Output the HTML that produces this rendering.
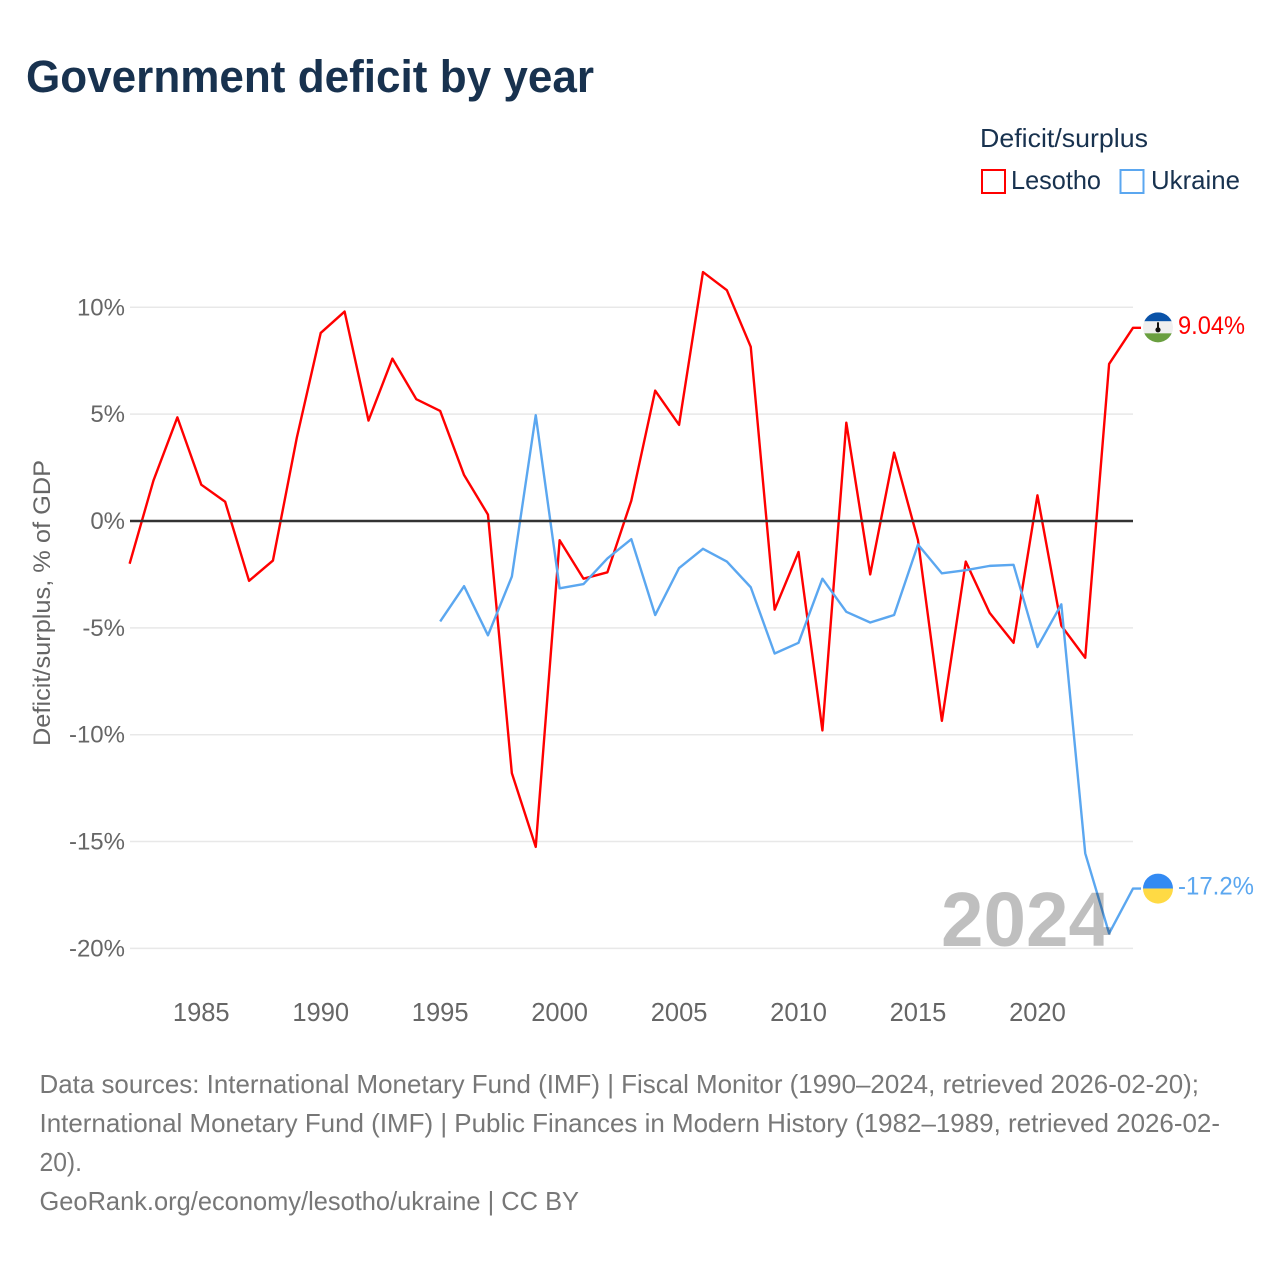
<!DOCTYPE html>
<html lang="en">
<head>
<meta charset="utf-8">
<title>Government deficit by year</title>
<style>
html,body{margin:0;padding:0;background:#fff;}
svg{display:block;}
text{font-family:"Liberation Sans",sans-serif;}
</style>
</head>
<body>
<svg id="chart" xmlns="http://www.w3.org/2000/svg" width="1280" height="1280" viewBox="0 0 1280 1280">
  <rect width="1280" height="1280" fill="#fff"/>
  <text x="26" y="92" font-size="45" font-weight="700" fill="#18324f" textLength="568" lengthAdjust="spacingAndGlyphs">Government deficit by year</text>
  <g>
    <text x="980" y="147" font-size="26" fill="#18324f" textLength="168" lengthAdjust="spacingAndGlyphs">Deficit/surplus</text>
    <rect x="982" y="170" width="23" height="23" fill="none" stroke="#ff0000" stroke-width="2"/>
    <text x="1011" y="189" font-size="26" fill="#18324f" textLength="90" lengthAdjust="spacingAndGlyphs">Lesotho</text>
    <rect x="1120.5" y="170" width="23" height="23" fill="none" stroke="#5ba7f0" stroke-width="2"/>
    <text x="1151" y="189" font-size="26" fill="#18324f" textLength="89" lengthAdjust="spacingAndGlyphs">Ukraine</text>
  </g>
  <text transform="translate(50,603) rotate(-90)" text-anchor="middle" font-size="24.5" fill="#666" textLength="286" lengthAdjust="spacingAndGlyphs">Deficit/surplus, % of GDP</text>
  <g id="grid"></g>
  <g id="yticks"></g>
  <g id="xticks"></g>
  <g id="series"></g>
  <text x="941" y="946" font-size="77" font-weight="700" fill="#000" fill-opacity="0.25" textLength="170" lengthAdjust="spacingAndGlyphs">2024</text>
  <defs>
    <clipPath id="flag-clip-ls"><circle id="clip-ls" cx="1158" cy="327" r="15"/></clipPath>
    <clipPath id="flag-clip-ua"><circle id="clip-ua" cx="1158" cy="888" r="15"/></clipPath>
  </defs>
  <g id="flag-ls" clip-path="url(#flag-clip-ls)">
    <rect id="ls-blue" x="1143" width="30" height="9" fill="#0a53a8"/>
    <rect id="ls-white" x="1143" width="30" height="12" fill="#efefef"/>
    <rect id="ls-green" x="1143" width="30" height="10" fill="#6a9f40"/>
    <rect id="ls-hat" x="1157" width="2" height="7" fill="#111"/>
    <circle id="ls-hat-base" cx="1158" r="2.6" fill="#111"/>
  </g>
  <g id="flag-ua" clip-path="url(#flag-clip-ua)">
    <rect id="ua-blue" x="1143" width="30" height="15" fill="#338af3"/>
    <rect id="ua-yellow" x="1143" width="30" height="16" fill="#ffda44"/>
  </g>
  <g id="endlabels"></g>
  <g font-size="26" fill="#777">
    <text x="39.5" y="1093" textLength="1159.5" lengthAdjust="spacingAndGlyphs">Data sources: International Monetary Fund (IMF) | Fiscal Monitor (1990–2024, retrieved 2026-02-20);</text>
    <text x="39.5" y="1132" textLength="1180.5" lengthAdjust="spacingAndGlyphs">International Monetary Fund (IMF) | Public Finances in Modern History (1982–1989, retrieved 2026-02-</text>
    <text x="39.5" y="1171" textLength="42.5" lengthAdjust="spacingAndGlyphs">20).</text>
    <text x="39.5" y="1210" textLength="539.5" lengthAdjust="spacingAndGlyphs">GeoRank.org/economy/lesotho/ukraine | CC BY</text>
  </g>
</svg>
<script>
var lesothoYears = [1982,1983,1984,1985,1986,1987,1988,1989,1990,1991,1992,1993,1994,1995,1996,1997,1998,1999,2000,2001,2002,2003,2004,2005,2006,2007,2008,2009,2010,2011,2012,2013,2014,2015,2016,2017,2018,2019,2020,2021,2022,2023,2024];
var lesothoValues = [-2.0,1.9,4.85,1.7,0.9,-2.8,-1.85,3.9,8.8,9.8,4.7,7.6,5.7,5.15,2.15,0.3,-11.8,-15.25,-0.9,-2.7,-2.4,0.95,6.1,4.5,11.65,10.8,8.15,-4.15,-1.45,-9.8,4.6,-2.5,3.2,-0.9,-9.35,-1.9,-4.3,-5.7,1.2,-4.9,-6.4,7.35,9.04];
var ukraineYears = [1995,1996,1997,1998,1999,2000,2001,2002,2003,2004,2005,2006,2007,2008,2009,2010,2011,2012,2013,2014,2015,2016,2017,2018,2019,2020,2021,2022,2023,2024];
var ukraineValues = [-4.7,-3.05,-5.35,-2.6,4.95,-3.15,-2.95,-1.75,-0.85,-4.4,-2.2,-1.3,-1.9,-3.1,-6.2,-5.7,-2.7,-4.25,-4.75,-4.4,-1.1,-2.45,-2.3,-2.1,-2.05,-5.9,-3.9,-15.55,-19.3,-17.2];
var yTicks = [10,5,0,-5,-10,-15,-20];
var xTicks = [1985,1990,1995,2000,2005,2010,2015,2020];
var lesothoLabel = "9.04%";
var ukraineLabel = "-17.2%";

var NS = 'http://www.w3.org/2000/svg';
function xScale(year){ return 129.6 + (year - 1982) * (1133 - 129.6) / 42; }
function yScale(v){ return 521 - v * 21.37; }
function make(tag, parent){
  var el = document.createElementNS(NS, tag);
  parent.appendChild(el);
  return el;
}
var grid = document.getElementById('grid');
var yG = document.getElementById('yticks');
var xG = document.getElementById('xticks');
var seriesG = document.getElementById('series');
var labelsG = document.getElementById('endlabels');

yTicks.forEach(function(t){
  if (t !== 0) {
    var ln = make('line', grid);
    
    
    ln.setAttribute('x1', 130);
    ln.setAttribute('x2', 1133);
    ln.setAttribute('y1', yScale(t));
    ln.setAttribute('y2', yScale(t));
    ln.setAttribute('stroke', '#e8e8e8');
    ln.setAttribute('stroke-width', 1.5);
  }
  var lb = make('text', yG);
  
  
  lb.setAttribute('x', 125);
  lb.setAttribute('y', yScale(t) + 8);
  lb.setAttribute('text-anchor', 'end');
  lb.setAttribute('font-size', 24);
  lb.setAttribute('fill', '#666');
  lb.textContent = t + '%';
});
xTicks.forEach(function(t){
  var lb = make('text', xG);
  
  
  lb.setAttribute('x', xScale(t));
  lb.setAttribute('y', 1021);
  lb.setAttribute('text-anchor', 'middle');
  lb.setAttribute('font-size', 25.5);
  lb.setAttribute('fill', '#666');
  lb.textContent = String(t);
});
function linePoints(years, values){
  return years.map(function(y, i){ return xScale(y).toFixed(2) + ',' + yScale(values[i]).toFixed(2); });
}
function endPoint(values){
  return [xScale(2024) + 8, yScale(values[values.length - 1])];
}
var lsEnd = endPoint(lesothoValues);
var uaEnd = endPoint(ukraineValues);

var lsLine = make('polyline', seriesG);


lsLine.setAttribute('points', linePoints(lesothoYears, lesothoValues).join(' ') + ' ' + lsEnd[0] + ',' + lsEnd[1]);
lsLine.setAttribute('fill', 'none');
lsLine.setAttribute('stroke', '#ff0000');
lsLine.setAttribute('stroke-width', 2.4);
lsLine.setAttribute('stroke-linejoin', 'round');

var uaLine = make('polyline', seriesG);


uaLine.setAttribute('points', linePoints(ukraineYears, ukraineValues).join(' ') + ' ' + uaEnd[0] + ',' + uaEnd[1]);
uaLine.setAttribute('fill', 'none');
uaLine.setAttribute('stroke', '#5ba7f0');
uaLine.setAttribute('stroke-width', 2.4);
uaLine.setAttribute('stroke-linejoin', 'round');

var zero = make('line', seriesG);


zero.setAttribute('x1', 130);
zero.setAttribute('x2', 1133);
zero.setAttribute('y1', yScale(0));
zero.setAttribute('y2', yScale(0));
zero.setAttribute('stroke', '#333');
zero.setAttribute('stroke-width', 2.6);

var lsText = make('text', labelsG);


lsText.setAttribute('x', 1178);
lsText.setAttribute('y', lsEnd[1] + 6);
lsText.setAttribute('font-size', 25);
lsText.setAttribute('fill', '#ff0000');
lsText.setAttribute('textLength', 67);
lsText.setAttribute('lengthAdjust', 'spacingAndGlyphs');
lsText.textContent = lesothoLabel;

var uaText = make('text', labelsG);


uaText.setAttribute('x', 1178);
uaText.setAttribute('y', uaEnd[1] + 6);
uaText.setAttribute('font-size', 25);
uaText.setAttribute('fill', '#5ba7f0');
uaText.setAttribute('textLength', 76);
uaText.setAttribute('lengthAdjust', 'spacingAndGlyphs');
uaText.textContent = ukraineLabel;

function place(id, attr, val){ document.getElementById(id).setAttribute(attr, val); }
var lc = lsEnd[1] - 0.5, uc = uaEnd[1];
place('clip-ls', 'cy', lc);
place('ls-blue', 'y', lc - 15);
place('ls-white', 'y', lc - 6);
place('ls-green', 'y', lc + 6);
place('ls-hat', 'y', lc - 5);
place('ls-hat-base', 'cy', lc + 2.5);
place('clip-ua', 'cy', uc);
place('ua-blue', 'y', uc - 15);
place('ua-yellow', 'y', uc);
</script>
</body>
</html>
